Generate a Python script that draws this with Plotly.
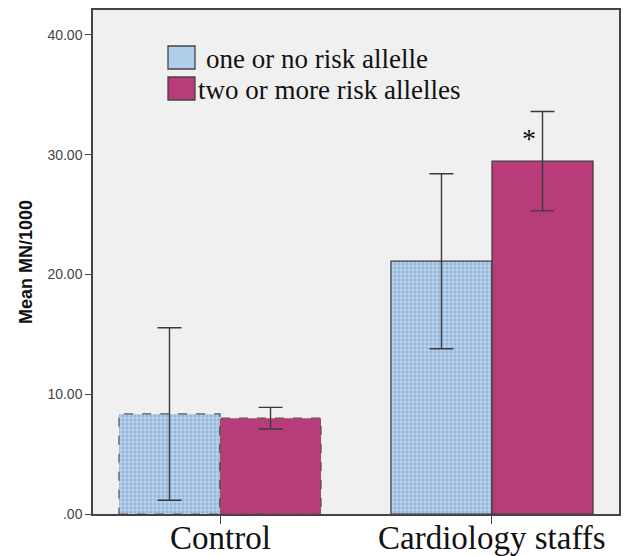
import plotly.graph_objects as go

categories = ["Control", "Cardiology staffs"]
series_names = ["one or no risk allelle", "two or more risk allelles"]
low_risk_means = [8.35, 21.1]
low_risk_err = [7.2, 7.3]
high_risk_means = [8.0, 29.45]
high_risk_err = [0.9, 4.15]
y_tick_vals = [0, 10, 20, 30, 40]
y_tick_text = [".00", "10.00", "20.00", "30.00", "40.00"]

blue = "#a9c7e6"
pink = "#b83c7a"
edge = "#3a3a3a"
bargap = 0.257
bw = (1 - bargap) / 2
xpos = list(range(len(categories)))

fig = go.Figure()
fig.add_trace(go.Bar(
    x=xpos, y=low_risk_means, name=series_names[0],
    marker=dict(color=blue,
                pattern=dict(shape=".", fgcolor="#7896bb", bgcolor="#b5d1ee", size=4, solidity=0.4),
                line=dict(color=edge, width=[0, 1.2])),
    error_y=dict(type="data", array=low_risk_err, color="#3a3a3a", thickness=1.4, width=12),
    showlegend=False,
))
fig.add_trace(go.Bar(
    x=xpos, y=high_risk_means, name=series_names[1],
    marker=dict(color=pink, line=dict(color=edge, width=[0, 1.2])),
    error_y=dict(type="data", array=high_risk_err, color="#3a3a3a", thickness=1.4, width=12),
    showlegend=False,
))

# dashed outlines for the Control bars (derived from the data)
for off, vals in ((-bw, low_risk_means), (0, high_risk_means)):
    i = 0
    fig.add_shape(type="rect", xref="x", yref="y",
                  x0=xpos[i] + off, x1=xpos[i] + off + bw, y0=0, y1=vals[i],
                  line=dict(color="#555555", width=1.2, dash="dash"), fillcolor="rgba(0,0,0,0)")

# significance marker above the high-risk cardiology bar
fig.add_annotation(x=xpos[1] + bw * 0.37, y=high_risk_means[1] + 1.9, text="*",
                   showarrow=False, font=dict(family="Liberation Serif", size=28, color="#111"))

# category labels (placed as annotations so they can sit close to the axis)
for xp, cat in zip(xpos, categories):
    fig.add_annotation(x=xp, xref="x", y=0, yref="paper", yanchor="middle", yshift=-24,
                       text=cat, showarrow=False,
                       font=dict(family="Liberation Serif", size=33, color="#111"))

# custom legend
W, H = 526, 504
def px(x):
    return (x - 93) / W
def py(y):
    return (514 - y) / H
legend_items = [(series_names[0], "#b0cdea", 168, 46, 204), (series_names[1], pink, 168, 77, 196)]
for name, col, lx, ly, tx in legend_items:
    fig.add_shape(type="rect", xref="paper", yref="paper",
                  x0=px(lx), x1=px(lx + 27), y0=py(ly + 23), y1=py(ly),
                  line=dict(color="#444", width=1.3), fillcolor=col)
    fig.add_annotation(xref="paper", yref="paper", x=px(tx), y=py(ly + 13),
                       xanchor="left", yanchor="middle", text=name, showarrow=False,
                       font=dict(family="Liberation Serif", size=27, color="#111"))

fig.update_layout(
    width=624, height=556,
    margin=dict(l=93, r=5, t=10, b=42),
    barmode="group", bargap=bargap, bargroupgap=0,
    plot_bgcolor="#f0f0f0", paper_bgcolor="white",
    xaxis=dict(range=[-0.467, 1.467], tickvals=xpos, showticklabels=False,
               showline=True, mirror=True, linecolor="#444", linewidth=1.5,
               ticks="outside", ticklen=8, tickcolor="#444", showgrid=False, zeroline=False,
               automargin=False),
    yaxis=dict(range=[0, 42.07], tickvals=y_tick_vals, ticktext=y_tick_text,
               showline=True, mirror=True, linecolor="#444", linewidth=1.5,
               ticks="outside", ticklen=6, tickcolor="#444", showgrid=False, zeroline=False,
               automargin=False,
               tickfont=dict(family="Liberation Sans", size=14, color="#444"),
               title=dict(text="<b>Mean MN/1000</b>", standoff=10,
                          font=dict(family="Liberation Sans", size=18, color="#111"))),
)

fig.write_html("out.html")
